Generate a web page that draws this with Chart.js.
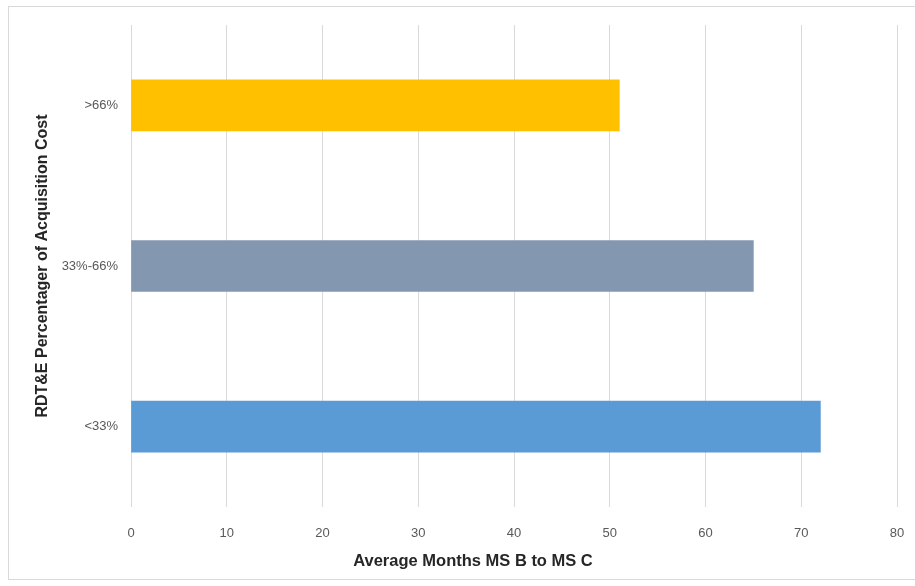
<!DOCTYPE html>
<html>
<head>
<meta charset="utf-8">
<script src="https://cdn.jsdelivr.net/npm/chart.js@4"></script>
<style>
  body { margin: 0; background: #fff; overflow: hidden; }
  #frame {
    position: absolute; left: 8px; top: 6px; width: 907px; height: 574px;
    border: 1px solid #d9d9d9; border-right: none; box-sizing: border-box;
  }
  #wrap { position: absolute; left: 0; top: 0; width: 915px; height: 586px; }
</style>
</head>
<body>
<div id="frame"></div>
<div id="wrap"><canvas id="chart"></canvas></div>
<script>
// data
var categories = [">66%", "33%-66%", "<33%"];
var months = [51, 65, 72];
var barColors = ["#FFC000", "#8497B0", "#5B9BD5"];
var xTicks = [0, 10, 20, 30, 40, 50, 60, 70, 80];
var xTitle = "Average Months MS B to MS C";
var yTitle = "RDT&E Percentager of Acquisition Cost";

// the x title in the original sits a bit left of the plot centre
var xTitlePlugin = {
  id: "xTitle",
  afterDraw: function (chart) {
    var c = chart.ctx;
    var area = chart.chartArea;
    c.save();
    c.font = "bold 16.5px 'Liberation Sans'";
    c.fillStyle = "#262626";
    c.textAlign = "center";
    c.textBaseline = "middle";
    c.fillText(xTitle, area.left + 342, 561);
    c.restore();
  },
};

document.addEventListener("DOMContentLoaded", function () {
  var ctx = document.getElementById("chart").getContext("2d");
  new Chart(ctx, {
    type: "bar",
    data: {
      labels: categories,
      datasets: [
        {
          label: xTitle,
          data: months,
          backgroundColor: barColors,
          barThickness: 51,
        },
      ],
    },
    options: {
      indexAxis: "y",
      responsive: true,
      maintainAspectRatio: false,
      animation: false,
      layout: { padding: { left: 30, top: 25, right: 18, bottom: 10 } },
      plugins: { legend: { display: false }, tooltip: { enabled: false } },
      scales: {
        x: {
          min: xTicks[0],
          max: xTicks[xTicks.length - 1],
          afterBuildTicks: function (scale) {
            scale.ticks = xTicks.map(function (v) { return { value: v }; });
          },
          afterFit: function (scale) { scale.height = 69; },
          // tick marks kept invisible, only used to push the labels down
          grid: {
            color: "#d9d9d9",
            drawTicks: true,
            tickLength: 16,
            tickColor: "rgba(0,0,0,0)",
          },
          border: { display: false },
          ticks: {
            padding: 3,
            color: "#595959",
            font: { family: "Liberation Sans", size: 13 },
          },
        },
        y: {
          afterFit: function (scale) { scale.width = 101; },
          grid: { display: false, drawTicks: false },
          border: { display: false },
          ticks: {
            padding: 13,
            color: "#595959",
            font: { family: "Liberation Sans", size: 13 },
          },
          title: {
            display: true,
            text: yTitle,
            color: "#262626",
            padding: { top: 3, bottom: 0 },
            font: { family: "Liberation Sans", size: 16, weight: "bold" },
          },
        },
      },
    },
    plugins: [xTitlePlugin],
  });
});
</script>
</body>
</html>
